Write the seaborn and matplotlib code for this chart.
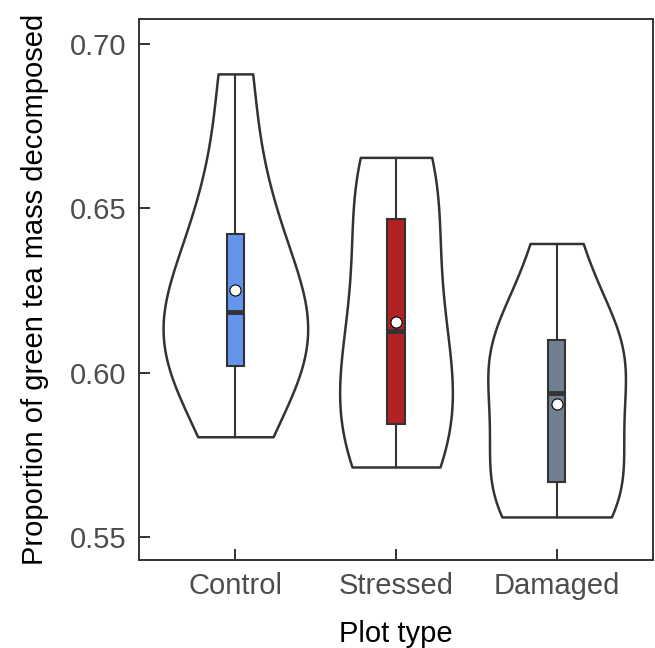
import numpy as np
import pandas as pd
import seaborn as sns
import matplotlib
matplotlib.use("Agg")
import matplotlib.pyplot as plt

# ---- data ----
categories = ["Control", "Stressed", "Damaged"]
control = [0.5805, 0.6021, 0.6021, 0.6150, 0.6186, 0.6186, 0.6421, 0.6551, 0.6909]
stressed = [0.5713, 0.5800, 0.5845, 0.5960, 0.6128, 0.6220, 0.6466, 0.6608, 0.6655]
damaged = [0.5561, 0.5599, 0.5668, 0.5755, 0.5937, 0.6045, 0.6098, 0.6098, 0.6393]
box_colors = ["#6495ED", "#B22222", "#708090"]
yticks = [0.55, 0.60, 0.65, 0.70]

df = pd.DataFrame({
    "Plot type": ["Control"] * len(control) + ["Stressed"] * len(stressed) + ["Damaged"] * len(damaged),
    "value": control + stressed + damaged,
})

sns.set_style("white")
plt.rcParams["font.family"] = ["Liberation Sans", "DejaVu Sans"]

fig = plt.figure(figsize=(6.55, 6.48), dpi=100)
ax = fig.add_axes([139 / 655, 88 / 648, 514 / 655, 541 / 648])

dark = "#333333"
sns.violinplot(data=df, x="Plot type", y="value", order=categories, cut=0,
               inner=None, color="white", linecolor=dark, linewidth=1.8,
               width=0.9, density_norm="area", ax=ax)
sns.boxplot(data=df, x="Plot type", y="value", order=categories,
            hue="Plot type", hue_order=categories, palette=box_colors,
            saturation=1, width=0.11, whis=(0, 100), showcaps=False, fliersize=0,
            linecolor=dark, linewidth=1.5, legend=False,
            showmeans=True,
            meanprops=dict(marker="o", markerfacecolor="white",
                           markeredgecolor="black", markersize=8,
                           markeredgewidth=0.8),
            medianprops=dict(color=dark, linewidth=3.5),
            ax=ax)

ax.set_xlim(-0.6, 2.6)
ax.set_ylim(0.5430, 0.7076)
ax.set_yticks(yticks)
ax.set_yticklabels([f"{t:.2f}" for t in yticks])
ax.set_xlabel("Plot type", fontsize=21, color="black", labelpad=14)
ax.set_ylabel("Proportion of green tea mass decomposed", fontsize=21, color="black", labelpad=15)
ax.tick_params(axis="both", which="major", bottom=True, left=True, top=False, right=False,
               direction="in", length=8, width=1.4, color=dark,
               labelsize=21, labelcolor="#4D4D4D")
ax.tick_params(axis="x", pad=9)
ax.tick_params(axis="y", pad=9)
for s in ax.spines.values():
    s.set_visible(True)
    s.set_color(dark)
    s.set_linewidth(1.4)

fig.savefig("out.png", dpi=100, facecolor="white")
